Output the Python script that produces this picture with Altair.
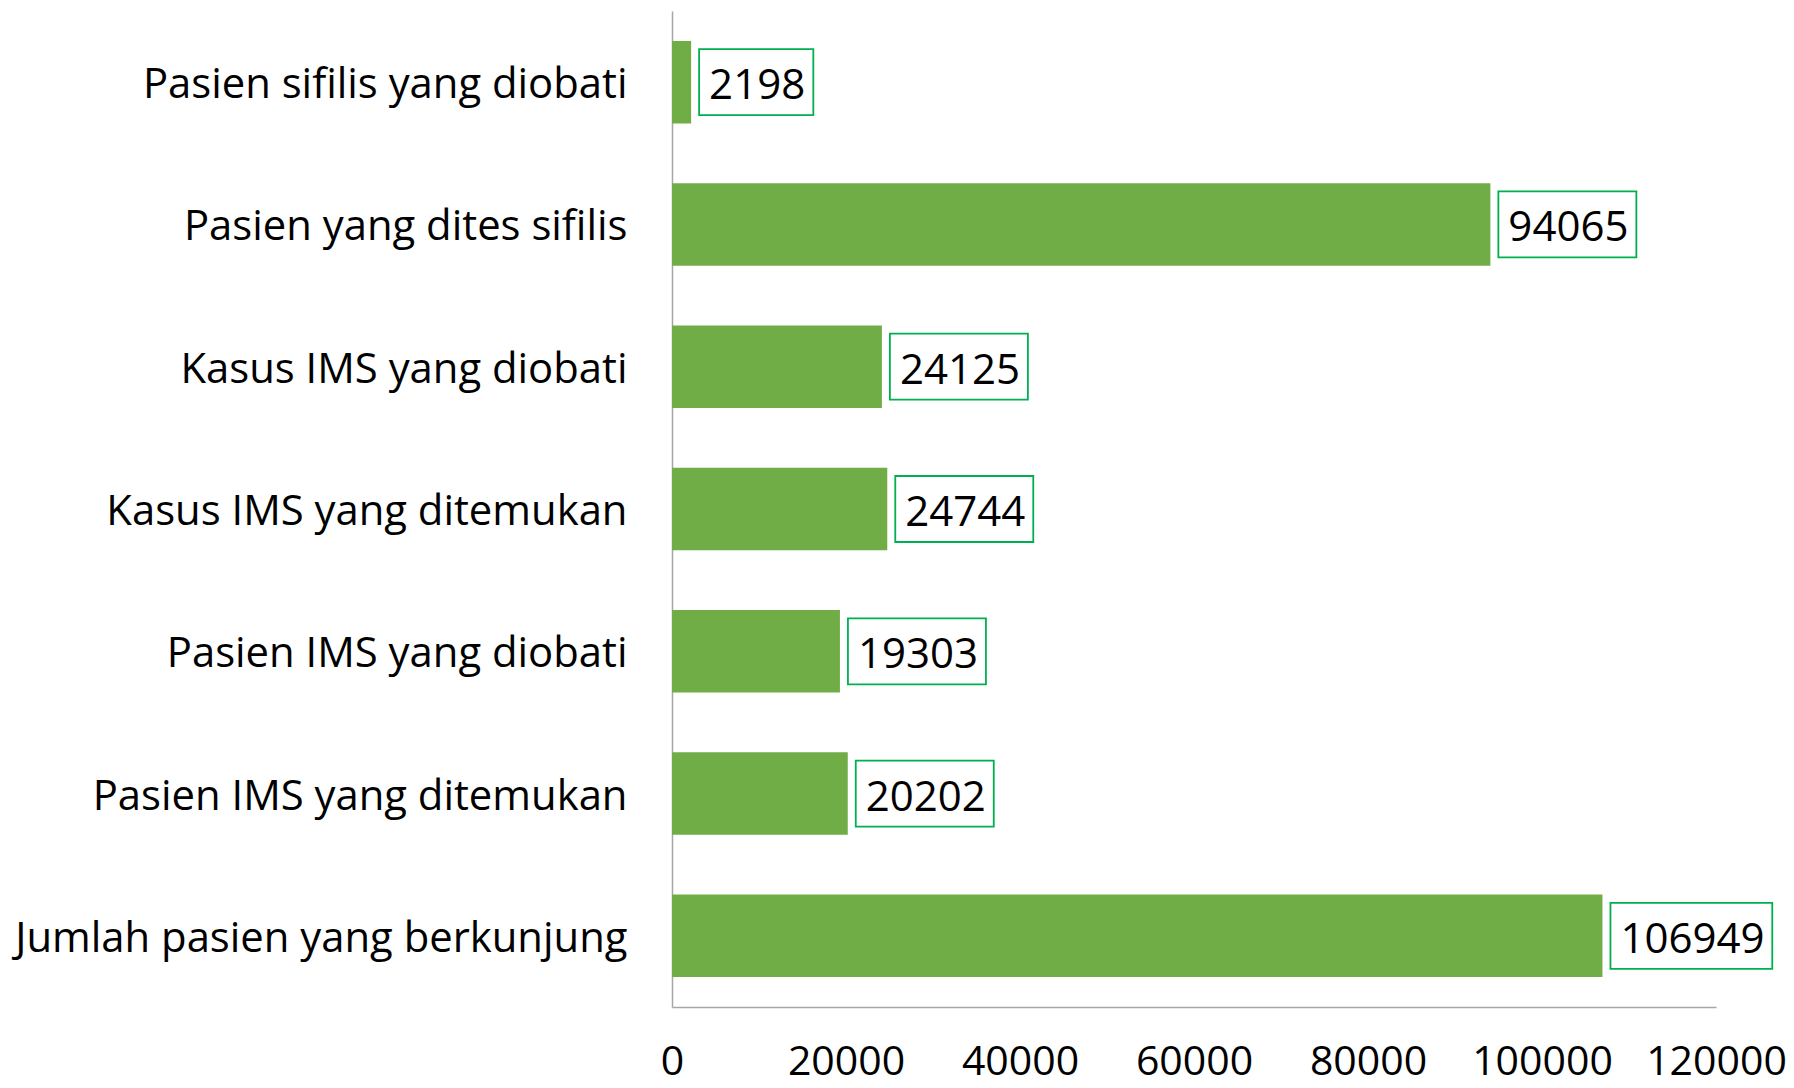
import altair as alt
import pandas as pd

categories = [
    "Pasien sifilis yang diobati",
    "Pasien yang dites sifilis",
    "Kasus IMS yang diobati",
    "Kasus IMS yang ditemukan",
    "Pasien IMS yang diobati",
    "Pasien IMS yang ditemukan",
    "Jumlah pasien yang berkunjung",
]
values = [2198, 94065, 24125, 24744, 19303, 20202, 106949]
x_ticks = [0, 20000, 40000, 60000, 80000, 100000, 120000]

df = pd.DataFrame({"cat": categories, "value": values})

FONT = "Open Sans"
y_enc = alt.Y("cat:N", sort=categories, title=None,
              scale=alt.Scale(paddingInner=0.42, paddingOuter=0.21),
              axis=alt.Axis(labelFont=FONT, labelFontSize=41.8, labelColor="black",
                            ticks=False, labelPadding=45, domainColor="#A6A6A6",
                            domainWidth=1.5, labelLimit=0, labelOffset=3))
x_scale = alt.Scale(domain=[0, 120000], nice=False)

bars = alt.Chart(df).mark_bar(color="#70AD47").encode(
    x=alt.X("value:Q", scale=x_scale, title=None,
            axis=alt.Axis(values=x_ticks, grid=False, ticks=False, labelFont=FONT,
                          labelFontSize=41, labelColor="black", labelPadding=35,
                          domainColor="#A6A6A6", domainWidth=1.5, labelBound=False,
                          labelFlush=False, labelOverlap=False, format="d")),
    y=y_enc,
)

layers = [bars]
for n in (4, 5, 6):
    w = 19 + n * 23.8
    box = alt.Chart(df).transform_filter(
        f"length(toString(datum.value)) == {n}"
    ).mark_bar(fill="white", stroke="#00B050", strokeWidth=1.8, height=66,
               xOffset=8, x2Offset=8 + w).encode(
        x=alt.X("value:Q", scale=x_scale),
        x2="value:Q",
        y=alt.Y("cat:N", sort=categories),
    )
    layers.append(box)

text = alt.Chart(df).mark_text(align="left", baseline="middle", dx=18, dy=4,
                               font=FONT, fontSize=42, color="black").encode(
    x=alt.X("value:Q", scale=x_scale),
    y=alt.Y("cat:N", sort=categories),
    text=alt.Text("value:Q", format="d"),
)
layers.append(text)

chart = alt.layer(*layers).properties(
    width=1044, height=996,
    background="white",
    autosize=alt.AutoSizeParams(type="none"),
    padding={"left": 664, "top": 3, "right": 70, "bottom": 72},
).configure_view(stroke=None)

chart.save("out.html", embed_options={"renderer": "svg", "actions": False})
